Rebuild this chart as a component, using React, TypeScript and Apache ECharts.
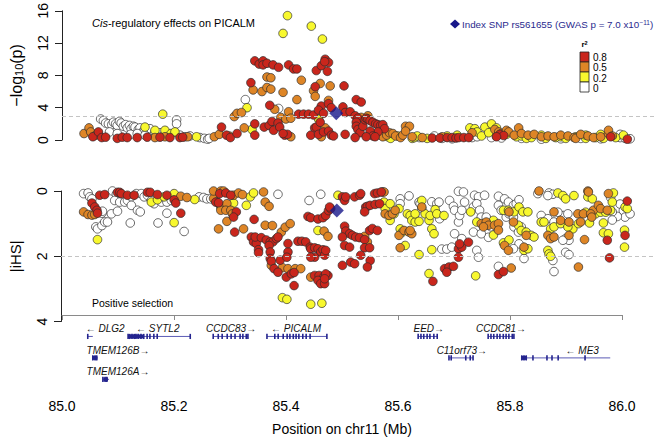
import React, { useEffect, useRef } from "react";
import * as echarts from "echarts";

// ---------- data ----------
// Cis-regulatory effects (position Mb, -log10 p) by r2 class
const topRed: number[][] = [
  [85.045,0.4],[85.055,1.0],[85.061,0.3],[85.068,0.35],[85.089,0.2],[85.098,0.35],[85.107,0.3],[85.125,0.3],[85.143,0.35],[85.166,0.35],[85.184,0.3],[85.202,0.3],[85.207,0.35],
  [85.277,1.6],[85.286,0.6],[85.293,0.3],[85.305,0.8],
  [85.337,9.8],[85.345,9.4],[85.352,9.8],[85.352,9.3],[85.359,9.5],[85.370,9.3],[85.380,9.0],[85.398,9.3],[85.407,8.8],[85.413,8.8],
  [85.330,7.1],[85.364,4.3],[85.337,2.0],[85.337,0.6],[85.354,1.6],[85.363,1.8],[85.368,2.3],[85.371,1.2],[85.379,2.1],[85.382,1.6],[85.391,0.6],[85.396,0.7],[85.388,0.8],
  [85.416,3.2],[85.425,3.2],[85.434,3.2],[85.443,3.1],[85.445,1.5],[85.448,1.6],[85.438,0.6],[85.452,0.7],[85.461,1.0],
  [85.448,8.6],[85.457,9.2],[85.464,10.0],[85.470,9.6],[85.463,9.7],[85.468,8.5],[85.446,6.6],[85.457,4.2],[85.470,4.5],[85.452,3.7],[85.461,3.3],[85.455,2.2],[85.470,1.1],[85.475,4.0],[85.475,0.6],
  [85.498,6.7],[85.496,4.1],[85.500,3.4],[85.509,3.5],[85.518,3.0],[85.523,2.7],[85.520,2.2],[85.520,1.7],[85.523,1.3],[85.527,0.9],[85.520,5.0],[85.529,4.7],
  [85.532,1.7],[85.536,2.5],[85.538,2.7],[85.541,2.6],[85.545,2.4],[85.550,2.2],[85.555,2.0],[85.559,1.9],[85.564,1.8],[85.568,1.9],[85.571,1.4],[85.559,1.0],[85.545,1.1],[85.550,0.5],[85.554,0.4],[85.538,0.4],[85.518,0.3],[85.500,0.7],[85.479,0.5],
  [85.657,0.25],[85.671,0.25],[85.684,0.3],[85.693,0.3],[85.700,0.25],[85.705,0.3],[85.714,0.3],[85.723,0.3],[85.779,0.7],[85.786,0.55],[85.773,0.4],[85.979,0.4],[86.009,0.1]
];
const topOrange: number[][] = [
  [85.029,0.8],[85.038,1.5],[85.041,1.0],[85.050,0.6],[85.157,0.3],[85.175,0.4],[85.216,0.4],[85.264,0.4],[85.273,0.7],[85.291,0.5],
  [85.300,2.9],[85.305,3.3],[85.313,3.4],[85.318,1.5],[85.334,6.2],[85.350,6.0],[85.359,6.5],[85.366,6.3],[85.359,7.8],[85.366,7.7],
  [85.373,3.8],[85.384,2.8],[85.393,2.6],[85.398,3.5],[85.402,2.7],[85.402,0.4],[85.388,5.9],[85.421,7.4],[85.413,5.0],[85.443,6.1],
  [85.455,7.0],[85.446,5.4],[85.473,6.7],[85.470,4.9],[85.457,0.4],[85.464,1.5],[85.529,2.8],[85.541,3.0],
  [85.564,0.6],[85.568,0.4],[85.575,0.6],[85.580,0.9],[85.586,0.8],[85.591,0.5],[85.600,0.3],[85.604,0.6],[85.609,1.7],[85.616,1.7],[85.609,1.1],[85.621,0.4],[85.639,0.3],[85.675,0.4],
  [85.729,0.9],[85.770,1.3],[85.777,1.0],[85.782,0.8],[85.791,1.2],[85.795,1.0],[85.805,0.6],[85.813,1.5],[85.818,0.8],[85.830,0.6],[85.841,0.7],
  [85.854,0.4],[85.866,0.5],[85.877,0.4],[85.889,0.6],[85.902,0.5],[85.913,0.3],[85.916,0.2],[85.925,0.7],[85.938,0.5],[85.948,0.3],[85.961,0.4],[85.975,0.8],[85.975,1.2],[85.982,0.5]
];
const topYellow: number[][] = [
  [85.139,1.6],[85.157,1.2],[85.171,3.2],[85.175,1.2],[85.186,0.8],[85.193,1.0],[85.232,0.4],[85.323,4.0],[85.332,1.3],
  [85.388,13.2],[85.396,15.4],[85.439,14.1],[85.459,12.5],[85.452,2.6],
  [85.571,0.7],[85.577,0.4],[85.582,0.2],[85.595,0.5],[85.621,0.2],[85.625,0.3],[85.630,0.5],[85.648,0.2],[85.684,0.5],[85.702,0.6],
  [85.725,1.5],[85.734,1.4],[85.738,1.0],[85.746,0.5],[85.752,1.6],[85.764,2.0],[85.759,0.9],[85.773,1.5],[85.791,0.7],
  [85.809,0.4],[85.818,0.5],[85.827,0.2],[85.836,0.3],[85.854,0.6],[85.862,0.2],[85.880,0.3],[85.889,0.4],[85.898,0.2],[85.916,0.4],[85.934,0.2],[85.934,0.6],[85.952,0.3],[85.961,0.7],[85.966,0.2],[85.988,0.3],[86.002,0.6]
];
const topWhite: number[][] = [
  [85.059,2.6],[85.064,2.4],[85.068,2.1],[85.073,2.0],[85.079,1.9],[85.082,2.2],[85.086,2.0],[85.089,1.8],[85.093,2.3],[85.096,2.1],
  [85.100,1.7],[85.104,1.9],[85.107,1.5],[85.111,1.8],[85.114,1.4],[85.118,1.7],[85.121,1.6],[85.127,1.3],[85.130,1.5],[85.136,1.1],
  [85.139,1.2],[85.145,1.0],[85.148,1.4],[85.157,1.0],[85.166,0.9],[85.175,0.8],[85.184,0.6],[85.196,2.5],[85.196,2.0],[85.202,0.6],
  [85.211,0.4],[85.220,0.5],[85.238,0.3],[85.246,0.2],[85.252,0.1],[85.255,0.2],[85.320,5.0],[85.380,3.9],
  [85.043,0.7],[85.054,0.9],[85.075,1.0],[85.089,0.8],[85.113,0.7],[85.125,0.8],[85.139,0.6],
  [85.634,0.3],[85.661,0.5],[85.675,0.2],[85.693,0.15],[85.729,0.3],[85.738,0.4],[85.764,0.3],[85.773,0.5],[85.782,0.25],[85.818,0.2],[85.854,0.1],[85.889,0.15],[85.925,0.2],[85.961,0.15],[85.996,0.3],[85.996,0.7],[86.005,0.2],[86.014,0.15]
];

// Positive selection (position Mb, |iHS|) by r2 class
const selRed: number[][] = [
  [85.045,0.37],[85.050,0.49],[85.054,0.59],[85.055,0.68],[85.059,0.13],[85.068,0.11],[85.091,0.04],[85.095,0.04],[85.098,0.08],[85.109,0.13],
  [85.121,0.13],[85.145,0.04],[85.150,0.04],[85.163,0.11],[85.180,0.13],[85.193,0.27],[85.196,0.37],[85.205,0.68],
  [85.268,0.34],[85.273,0.36],[85.275,0.08],[85.286,0.06],[85.295,0.13],[85.305,0.64],[85.300,0.8],[85.302,1.26],
  [85.337,0.87],[85.332,1.41],[85.336,1.56],[85.341,1.61],[85.345,1.8],[85.345,1.89],[85.339,1.41],[85.350,1.43],[85.359,1.5],[85.366,1.56],
  [85.371,1.56],[85.377,1.46],[85.380,1.41],[85.364,1.67],[85.366,1.87],[85.366,2.07],[85.368,2.15],[85.373,2.38],[85.380,2.49],[85.384,2.12],
  [85.398,1.87],[85.398,1.61],[85.396,2.03],[85.395,2.64],[85.404,2.54],[85.409,2.5],[85.409,2.9],
  [85.416,1.54],[85.423,1.54],[85.430,1.56],[85.438,1.72],[85.439,1.77],[85.446,1.74],[85.452,1.77],[85.457,1.87],[85.461,1.8],[85.446,2.03],[85.439,2.03],[85.464,1.97],
  [85.434,0.78],[85.439,0.82],[85.452,0.86],[85.461,0.82],[85.466,0.75],[85.471,0.6],[85.475,0.54],
  [85.446,2.59],[85.454,2.59],[85.463,2.62],[85.470,2.59],[85.452,2.74],[85.457,2.84],[85.464,2.84],
  [85.473,0.49],[85.496,0.18],[85.500,0.29],[85.502,0.18],[85.518,0.18],[85.527,0.13],[85.529,0.08],[85.538,0.49],[85.541,0.47],[85.546,0.44],
  [85.555,0.41],[85.563,0.39],[85.554,0.08],[85.559,0.06],[85.566,0.03],[85.536,0.64],
  [85.500,1.08],[85.502,1.23],[85.509,1.31],[85.514,1.36],[85.520,1.41],[85.527,1.43],[85.536,1.49],[85.545,1.21],[85.550,1.15],[85.559,1.21],
  [85.496,1.41],[85.500,1.67],[85.509,1.72],[85.536,1.74],[85.545,1.74],[85.466,1.82],[85.529,1.97],[85.511,2.18],[85.518,2.23],[85.496,2.28],
  [85.546,2.13],[85.541,2.33],[85.466,2.54],[85.464,2.69],
  [85.705,1.77],[85.711,1.72],[85.707,1.62],[85.723,1.57],[85.705,2.03],[85.680,2.38],[85.688,2.33],[85.696,2.31],[85.684,2.49],[85.659,2.77],
  [85.777,2.56],[85.786,2.47],[86.009,0.31],[86.005,1.36],[85.973,1.51],[85.977,2.05]
];
const selOrange: number[][] = [
  [85.030,0.64],[85.038,0.72],[85.045,0.74],[85.050,0.72],[85.205,0.16],[85.216,0.2],[85.264,0.23],[85.270,0.34],[85.277,0.49],[85.282,0.49],
  [85.288,0.39],[85.264,0.0],[85.277,0.0],[85.282,0.0],[85.300,0.13],[85.309,0.06],[85.316,0.11],[85.273,1.16],[85.288,0.93],[85.277,0.59],
  [85.286,0.59],[85.295,0.59],[85.298,0.7],[85.318,1.16],[85.354,0.03],[85.357,0.34],[85.364,0.47],[85.357,1.05],[85.370,1.06],[85.386,1.26],
  [85.393,1.11],[85.402,1.0],[85.368,2.28],[85.388,2.35],[85.398,2.38],[85.411,2.38],[85.421,2.38],[85.439,2.64],[85.463,1.23],[85.470,1.39],
  [85.541,1.56],[85.536,1.39],[85.568,0.03],[85.571,0.03],[85.573,0.7],[85.580,0.75],[85.586,0.7],[85.591,0.59],[85.598,1.36],[85.600,1.74],
  [85.607,1.21],[85.616,1.26],[85.621,1.31],[85.618,1.21],[85.639,0.49],
  [85.746,1.0],[85.755,0.95],[85.759,1.05],[85.750,1.1],[85.770,1.05],[85.777,1.0],[85.777,1.2],[85.788,1.67],[85.795,1.82],[85.800,2.36],
  [85.796,0.64],[85.804,0.95],[85.823,1.72],[85.827,1.36],[85.850,0.0],[85.877,0.64],[85.889,0.9],[85.904,0.95],[85.920,0.7],[85.930,0.7],
  [85.925,0.95],[85.866,1.36],[85.871,1.46],[85.877,1.41],[85.904,1.36],[85.921,2.33],[85.932,1.49],[85.938,0.0],[85.939,0.03],[85.948,0.59],
  [85.957,0.44],[85.961,0.54],[85.973,0.59],[85.975,0.08],[85.943,0.7],[85.945,0.8]
];
const selYellow: number[][] = [
  [85.055,1.49],[85.152,0.34],[85.163,0.27],[85.175,0.18],[85.193,0.08],[85.193,0.97],[85.230,0.26],[85.300,0.37],[85.330,0.18],[85.336,0.06],
  [85.323,0.44],[85.388,3.27],[85.396,3.32],[85.452,1.21],[85.439,3.47],[85.459,3.44],[85.488,0.13],
  [85.571,0.34],[85.573,0.54],[85.582,0.39],[85.582,0.9],[85.589,0.7],[85.598,0.54],[85.600,1.16],[85.609,1.67],[85.604,1.26],[85.613,0.7],
  [85.618,0.75],[85.621,0.9],[85.627,0.95],[85.627,0.7],[85.634,0.93],[85.639,0.29],[85.645,0.7],[85.652,0.9],[85.654,0.75],[85.657,1.16],
  [85.661,1.31],[85.663,0.57],[85.666,0.7],[85.679,0.75],[85.634,1.95],[85.657,1.8],[85.652,2.53],[85.736,2.6],[85.727,0.64],[85.738,0.95],
  [85.768,0.9],[85.768,1.35],[85.786,1.59],[85.796,1.5],[85.786,0.59],[85.795,0.59],[85.805,0.64],[85.814,0.49],[85.821,0.64],[85.830,0.64],
  [85.813,1.05],[85.818,1.21],[85.827,1.26],[85.836,1.36],[85.841,1.41],[85.823,1.82],[85.830,1.77],
  [85.884,0.06],[85.893,0.14],[85.898,0.24],[85.913,0.14],[85.938,0.18],[85.946,0.24],[85.854,0.95],[85.859,0.95],[85.871,1.16],[85.877,1.1],
  [85.889,1.0],[85.911,1.16],[85.902,1.1],[85.866,1.82],[85.868,1.93],[85.871,2.0],[85.934,0.65],[85.941,0.98],[85.921,1.0],[85.952,0.7],
  [85.961,0.65],[85.970,0.65],[85.979,0.59],[85.982,0.34],[85.984,0.06],[85.966,0.98],[85.966,1.28],[85.975,1.31],[86.005,0.49],[86.009,0.54],
  [86.004,1.2],[86.004,1.72]
];
const selWhite: number[][] = [
  [85.030,0.08],[85.038,0.06],[85.041,0.18],[85.045,0.24],[85.063,0.68],[85.064,0.62],[85.052,1.1],[85.055,1.16],[85.063,1.06],[85.068,0.95],
  [85.073,0.95],[85.080,0.7],[85.091,0.62],[85.082,0.0],[85.089,0.1],[85.095,0.06],[85.086,0.29],[85.095,0.34],[85.104,0.34],[85.109,0.29],
  [85.116,0.18],[85.125,0.08],[85.134,0.08],[85.139,0.18],[85.145,0.13],[85.152,0.29],[85.157,0.39],[85.170,0.34],[85.180,0.34],[85.188,0.29],
  [85.116,0.44],[85.127,0.59],[85.132,0.64],[85.114,0.98],[85.164,0.98],[85.180,0.68],[85.211,1.24],[85.238,0.18],[85.246,0.2],[85.252,0.24],
  [85.259,0.24],[85.380,0.1],[85.436,0.29],[85.457,0.1],
  [85.600,0.24],[85.600,0.39],[85.616,0.15],[85.634,0.34],[85.636,0.39],[85.639,0.54],[85.657,0.33],[85.666,0.39],[85.670,0.34],[85.666,0.7],
  [85.671,0.85],[85.664,0.68],[85.689,0.29],[85.696,0.47],[85.698,0.59],[85.705,0.95],[85.707,0.75],[85.711,0.59],[85.716,0.34],[85.675,1.78],
  [85.684,1.78],[85.693,1.72],[85.698,1.31],[85.711,1.46],[85.732,1.26],[85.705,0.01],[85.714,0.03],[85.734,0.13],[85.741,0.18],[85.752,0.13],
  [85.732,0.49],[85.738,0.39],[85.743,0.59],[85.746,0.8],[85.755,0.8],[85.759,1.26],[85.759,1.42],[85.764,1.1],[85.738,1.82],[85.741,2.03],
  [85.746,1.31],[85.777,0.44],[85.782,0.59],[85.791,0.8],[85.796,0.7],[85.777,0.16],[85.788,0.24],[85.795,0.34],[85.804,0.44],[85.809,0.39],
  [85.814,0.27],[85.804,0.8],[85.805,1.1],[85.813,1.26],[85.818,1.1],[85.814,1.62],[85.823,2.07],[85.804,1.77],[85.777,2.31],
  [85.848,0.08],[85.868,0.06],[85.875,0.1],[85.866,0.14],[85.854,0.75],[85.866,0.85],[85.877,0.95],[85.895,0.75],[85.902,0.7],[85.884,0.65],
  [85.898,1.46],[85.904,1.51],[85.893,1.51],[85.875,2.13],[85.898,1.88],[85.904,1.95],[85.877,2.47],
  [85.979,0.2],[85.996,0.4],[86.002,0.6],[86.005,0.8],[86.014,0.7],[85.991,0.78],[85.982,0.64],[85.982,0.89]
];

// Index SNP rs561655
const indexTop: number[][] = [[85.484, 3.3]];
const indexSel: number[][] = [[85.486, 0.6]];

// thresholds (dashed lines)
const topThreshold = 3;
const selThreshold = 2;

// genes
const geneNames = ["DLG2", "SYTL2", "CCDC83", "PICALM", "TMEM126B", "TMEM126A", "EED", "CCDC81", "C11orf73", "ME3"];
const geneStrand = ["-", "-", "+", "-", "+", "+", "+", "+", "+", "-"];
const geneStart = [85.046, 85.118, 85.270, 85.366, 85.055, 85.073, 85.636, 85.761, 85.691, 85.821];
const geneEnd = [85.055, 85.229, 85.332, 85.473, 85.064, 85.084, 85.670, 85.807, 85.734, 85.979];
const geneRow = [1, 1, 1, 1, 2, 3, 1, 1, 2, 2];
const geneLabelAt = [85.077, 85.171, 85.302, 85.418, 85.100, 85.100, 85.655, 85.784, 85.714, 85.929];
const geneCds: (number[] | null)[] = [null, [85.118, 85.145], null, null, [85.055, 85.063], [85.074, 85.082], null, null, null, [85.821, 85.829]];
const geneExons: number[][] = [
  [85.046],
  [85.118, 85.121, 85.125, 85.129, 85.132, 85.136, 85.141, 85.146, 85.152, 85.157, 85.164, 85.170, 85.229],
  [85.270, 85.279, 85.286, 85.295, 85.302, 85.309, 85.318, 85.323, 85.329, 85.332],
  [85.366, 85.380, 85.386, 85.395, 85.402, 85.407, 85.413, 85.418, 85.423, 85.430, 85.436, 85.443, 85.473],
  [85.055, 85.059, 85.062],
  [85.073, 85.077, 85.080],
  [85.636, 85.641, 85.646, 85.652, 85.657, 85.664, 85.670],
  [85.761, 85.766, 85.771, 85.777, 85.782, 85.788, 85.793, 85.798, 85.804, 85.807],
  [85.691, 85.695, 85.721, 85.729, 85.734],
  [85.821, 85.825, 85.829, 85.841, 85.866, 85.875, 85.886, 85.934]
];

// x tick labels
const xMin = 85.0;
const xMax = 86.0;
const xStep = 0.2;

// ---------- styling ----------
const FONT = "'Liberation Sans', Arial, Helvetica, sans-serif";
const RED = "#C9261C";
const ORANGE = "#DE8526";
const YELLOW = "#F8F82E";
const WHITE = "#FFFFFF";
const NAVY = "#17178A";
const GENE = "#24248F";
// panel x extent (the scatter panels run from the y axis to the right border)
const PANEL_X_MIN = 84.98929;
const PANEL_X_MAX = 86.06071;

function pointSeries(name: string, data: number[][], color: string, idx: number, extra: any = {}) {
  return {
    name,
    type: "scatter",
    xAxisIndex: idx,
    yAxisIndex: idx,
    data,
    symbol: "circle",
    symbolSize: 8.6,
    itemStyle: { color, borderColor: "#2b2b2b", borderWidth: 0.7, opacity: 1 },
    silent: true,
    ...extra,
  };
}

function dashed(v: number) {
  return {
    silent: true,
    symbol: "none",
    label: { show: false },
    lineStyle: { type: [4, 3], color: "#c4c4c4", width: 1 },
    data: [{ yAxis: v }],
  };
}

export default function App() {
  const ref = useRef<HTMLDivElement>(null);
  useEffect(() => {
    if (!ref.current) return;
    const chart = echarts.init(ref.current, null, { renderer: "svg" });
    const yAxisCommon = {
      type: "value",
      axisLine: { show: true, lineStyle: { color: "#222", width: 1 } },
      axisTick: { show: true, length: 7, lineStyle: { color: "#222" } },
      axisLabel: { rotate: 90, fontSize: 14, color: "#000", margin: 12, fontFamily: FONT },
      splitLine: { show: false },
      nameLocation: "middle",
      nameRotate: 90,
    };
    const option: any = {
      animation: false,
      backgroundColor: "#fff",
      textStyle: { fontFamily: FONT },
      grid: [
        { left: 56, top: 9.5, width: 600, height: 130.5 },
        { left: 56, top: 191, width: 600, height: 130.5 },
        { left: 62, top: 315, width: 560, height: 79 },
      ],
      xAxis: [
        { gridIndex: 0, type: "value", min: PANEL_X_MIN, max: PANEL_X_MAX, show: false },
        { gridIndex: 1, type: "value", min: PANEL_X_MIN, max: PANEL_X_MAX, show: false },
        {
          gridIndex: 2,
          type: "value",
          min: xMin,
          max: xMax,
          interval: xStep,
          axisLine: { show: true, lineStyle: { color: "#8a8a8a", width: 1 } },
          axisTick: { show: true, length: 5, lineStyle: { color: "#8a8a8a" } },
          axisLabel: { fontSize: 14, color: "#000", margin: 7, fontFamily: FONT, formatter: (v: number) => v.toFixed(1) },
          splitLine: { show: false },
          name: "Position on chr11 (Mb)",
          nameLocation: "middle",
          nameGap: 30,
          nameTextStyle: { fontSize: 14, color: "#000", fontFamily: FONT },
        },
      ],
      yAxis: [
        {
          ...yAxisCommon,
          gridIndex: 0,
          min: 0,
          max: 16,
          interval: 4,
          name: "\u2212log{sub|10}(p)",
          nameGap: 38,
          nameTextStyle: {
            fontSize: 16,
            color: "#000",
            fontFamily: FONT,
            rich: { sub: { fontSize: 11, verticalAlign: "bottom", lineHeight: 10, fontFamily: FONT, color: "#000" } },
          },
        },
        {
          ...yAxisCommon,
          gridIndex: 1,
          min: 0,
          max: 4,
          interval: 2,
          inverse: true,
          name: "|iHS|",
          nameGap: 38,
          nameTextStyle: { fontSize: 15, color: "#000", fontFamily: FONT },
        },
        { gridIndex: 2, type: "value", min: 0, max: 3.59, inverse: true, show: false },
      ],
      series: [
        pointSeries("top r2<0.2", topWhite, WHITE, 0, { markLine: dashed(topThreshold) }),
        pointSeries("top r2 0.2", topYellow, YELLOW, 0),
        pointSeries("top r2 0.5", topOrange, ORANGE, 0),
        pointSeries("top r2 0.8", topRed, RED, 0),
        {
          name: "index top",
          type: "scatter",
          xAxisIndex: 0,
          yAxisIndex: 0,
          data: indexTop,
          symbol: "diamond",
          symbolSize: 14,
          itemStyle: { color: NAVY },
          z: 5,
        },
        pointSeries("sel r2<0.2", selWhite, WHITE, 1, { markLine: dashed(selThreshold) }),
        pointSeries("sel r2 0.2", selYellow, YELLOW, 1),
        pointSeries("sel r2 0.5", selOrange, ORANGE, 1),
        pointSeries("sel r2 0.8", selRed, RED, 1),
        {
          name: "index sel",
          type: "scatter",
          xAxisIndex: 1,
          yAxisIndex: 1,
          data: indexSel,
          symbol: "diamond",
          symbolSize: 14,
          itemStyle: { color: NAVY },
          z: 5,
        },
        {
          name: "genes",
          type: "custom",
          xAxisIndex: 2,
          yAxisIndex: 2,
          clip: false,
          silent: true,
          data: geneStart.map((s, i) => [s, geneEnd[i], geneRow[i]]),
          encode: { x: [0, 1], y: 2 },
          renderItem: (params: any, api: any) => {
            const i = params.dataIndex;
            const row = api.value(2);
            const p0 = api.coord([api.value(0), row]);
            const p1 = api.coord([api.value(1), row]);
            const children: any[] = [
              {
                type: "line",
                shape: { x1: p0[0], y1: p0[1], x2: p1[0], y2: p1[1] },
                style: { stroke: "#5b5bb5", lineWidth: 1 },
              },
            ];
            const cds = geneCds[i];
            if (cds) {
              const c0 = api.coord([cds[0], row]);
              const c1 = api.coord([cds[1], row]);
              children.push({
                type: "rect",
                shape: { x: c0[0], y: c0[1] - 2, width: Math.max(1.5, c1[0] - c0[0]), height: 4 },
                style: { fill: GENE },
              });
            }
            geneExons[i].forEach((e) => {
              const c = api.coord([e, row]);
              children.push({
                type: "rect",
                shape: { x: c[0] - 0.8, y: c[1] - 2.6, width: 1.6, height: 5.2 },
                style: { fill: GENE },
              });
            });
            const lp = api.coord([geneLabelAt[i], row]);
            const label = geneStrand[i] === "+" ? geneNames[i] + "\u2192" : "\u2190 " + geneNames[i];
            children.push({
              type: "text",
              x: lp[0],
              y: lp[1] - 7.5,
              style: {
                text: label,
                fontSize: 10,
                fontStyle: "italic",
                fontFamily: FONT,
                fill: "#111",
                align: "center",
                verticalAlign: "middle",
              },
            });
            return { type: "group", children };
          },
        },
      ],
      graphic: [
        {
          type: "text",
          left: 92,
          top: 17,
          style: {
            text: "{i|Cis}-regulatory effects on PICALM",
            fontSize: 11,
            fontFamily: FONT,
            fill: "#000",
            rich: { i: { fontStyle: "italic", fontSize: 11, fontFamily: FONT, fill: "#000" } },
          },
        },
        {
          type: "text",
          left: 92,
          top: 297,
          style: { text: "Positive selection", fontSize: 10.5, fontFamily: FONT, fill: "#000" },
        },
        {
          type: "polygon",
          shape: { points: [[455, 19.5], [460, 24], [455, 28.5], [450, 24]] },
          style: { fill: NAVY },
        },
        {
          type: "text",
          x: 462,
          y: 24,
          style: {
            text: "Index SNP rs561655 (GWAS p = 7.0 x10{sup|\u221211})",
            fontSize: 9.8,
            fontFamily: FONT,
            fill: "#2a2a8e",
            verticalAlign: "middle",
            align: "left",
            rich: { sup: { fontSize: 6.5, verticalAlign: "top", lineHeight: 7, fill: "#2a2a8e", fontFamily: FONT } },
          },
        },
        {
          type: "text",
          x: 584.5,
          y: 44,
          style: {
            text: "r{s|2}",
            fontSize: 8,
            fontWeight: "bold",
            fontFamily: FONT,
            fill: "#000",
            align: "center",
            verticalAlign: "middle",
            rich: { s: { fontSize: 5.5, fontWeight: "bold", verticalAlign: "top", lineHeight: 5, fill: "#000" } },
          },
        },
        ...[RED, ORANGE, YELLOW, WHITE].map((c, k) => ({
          type: "rect",
          shape: { x: 580, y: 52 + k * 10, width: 9, height: 10 },
          style: { fill: c, stroke: "#222", lineWidth: 0.8 },
        })),
        ...["0.8", "0.5", "0.2", "0"].map((t, k) => ({
          type: "text",
          x: 593,
          y: 57.5 + k * 10.4,
          style: { text: t, fontSize: 10, fontFamily: FONT, fill: "#000", verticalAlign: "middle", align: "left" },
        })),
      ],
    };
    chart.setOption(option);
    return () => chart.dispose();
  }, []);
  return (
    <div
      ref={ref}
      style={{ position: "fixed", left: 0, top: 0, width: 656, height: 437, background: "#fff" }}
    />
  );
}
